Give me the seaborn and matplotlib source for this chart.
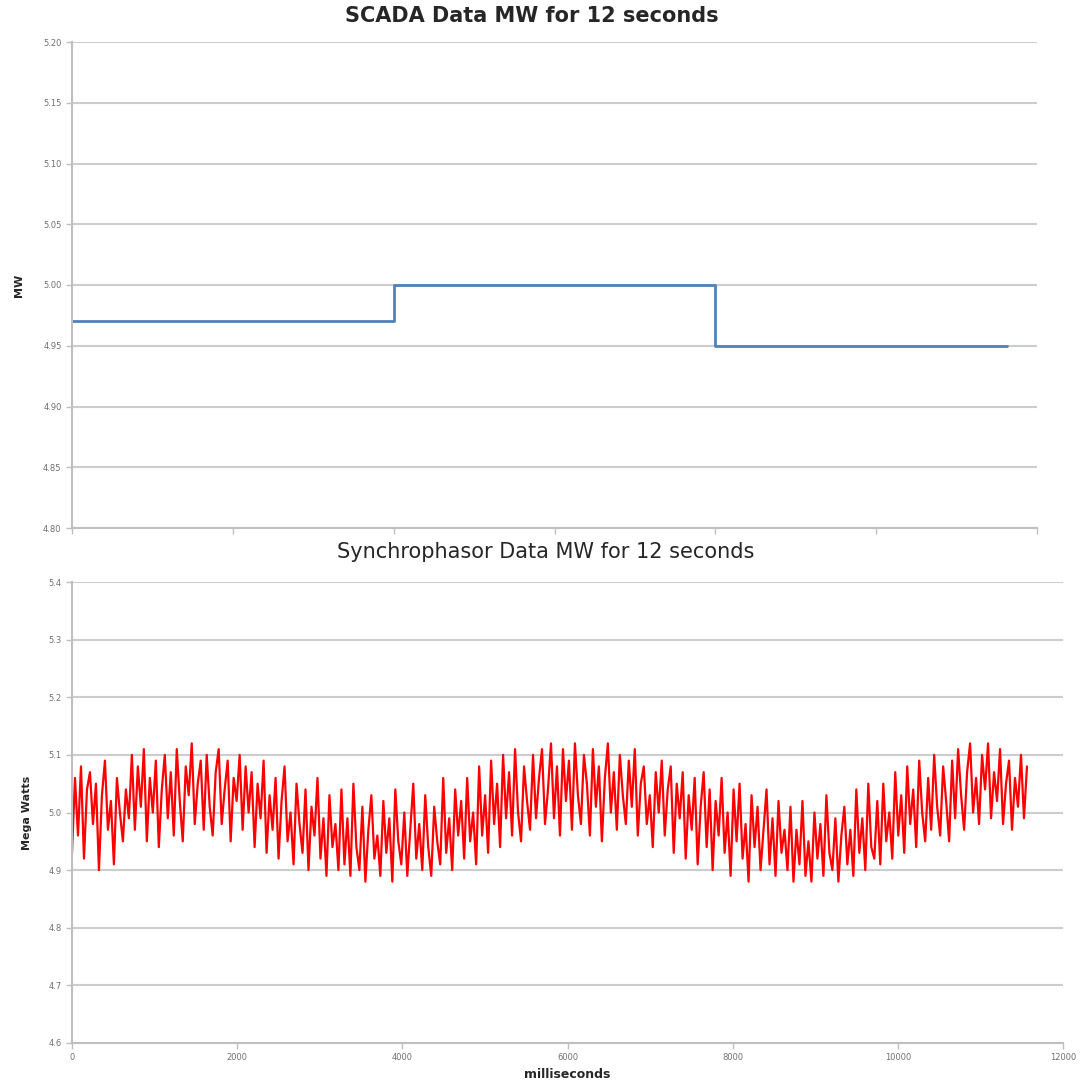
import numpy as np
import pandas as pd
import matplotlib
matplotlib.use("Agg")
import matplotlib.pyplot as plt
import seaborn as sns

# SCADA reporting: one value held between scans (seconds, MW)
scada_seconds = [0.0, 4.0, 8.0, 11.63]
scada_mw = [4.97, 5.00, 4.95, 4.95]

# Synchrophasor samples (MW), sampled every 36.25 ms
sample_ms = 36.25
pmu_mw = [
    4.93, 5.06, 4.96, 5.08, 4.92, 5.04, 5.07, 4.98, 5.05, 4.90, 5.03, 5.09, 4.97, 5.02, 4.91, 5.06, 5.00, 4.95, 5.04, 4.99,
    5.10, 4.97, 5.08, 5.01, 5.11, 4.95, 5.06, 5.00, 5.09, 4.94, 5.04, 5.10, 4.99, 5.07, 4.96, 5.11, 5.02, 4.95, 5.08, 5.03,
    5.12, 4.98, 5.05, 5.09, 4.97, 5.10, 5.01, 4.96, 5.07, 5.11, 4.98, 5.04, 5.09, 4.95, 5.06, 5.02, 5.10, 4.97, 5.08, 5.00,
    5.07, 4.94, 5.05, 4.99, 5.09, 4.93, 5.03, 4.97, 5.06, 4.92, 5.02, 5.08, 4.95, 5.00, 4.91, 5.05, 4.98, 4.93, 5.04, 4.90,
    5.01, 4.96, 5.06, 4.92, 4.99, 4.89, 5.03, 4.94, 4.98, 4.90,
    5.04, 4.91, 4.99, 4.89, 5.05, 4.94, 4.90, 5.01, 4.88, 4.97, 5.03, 4.92, 4.96, 4.89, 5.02, 4.93, 4.99, 4.88, 5.04, 4.95,
    4.91, 5.00, 4.89, 4.97, 5.05, 4.92, 4.98, 4.90, 5.03, 4.94, 4.89, 5.01, 4.95, 4.91, 5.06, 4.93, 4.99, 4.90, 5.04, 4.96,
    5.02, 4.92, 5.06, 4.95, 5.00, 4.91, 5.08, 4.96, 5.03, 4.93, 5.09, 4.98, 5.05, 4.94, 5.10, 4.99, 5.07, 4.96, 5.11, 5.00,
    4.95, 5.08, 5.02, 4.97, 5.10, 4.99, 5.06, 5.11, 4.98, 5.04,
    5.12, 4.99, 5.08, 4.96, 5.11, 5.02, 5.09, 4.97, 5.12, 5.03, 4.98, 5.10, 5.05, 4.96, 5.11, 5.01, 5.08, 4.95, 5.06, 5.12,
    5.00, 5.07, 4.97, 5.10, 5.03, 4.98, 5.09, 5.01, 5.11, 4.96, 5.05, 5.08, 4.98, 5.03, 4.94, 5.07, 5.00, 5.09, 4.96, 5.04,
    5.08, 4.93, 5.05, 4.99, 5.07, 4.92, 5.03, 4.97, 5.06, 4.91, 5.01, 5.07, 4.94, 5.04, 4.90, 5.02, 4.96, 5.06, 4.93, 5.00,
    4.89, 5.04, 4.95, 5.05, 4.92, 4.98, 4.88, 5.03, 4.94, 5.01, 4.90, 4.97, 5.04, 4.91, 4.99, 4.89, 5.02, 4.93, 4.97, 4.90,
    5.01, 4.88, 4.97, 4.91, 5.02, 4.89, 4.95, 4.88, 5.00, 4.92, 4.98, 4.89, 5.03, 4.93, 4.90, 4.99, 4.88, 4.96, 5.01, 4.91,
    4.97, 4.89, 5.04, 4.93, 4.99, 4.90, 5.05, 4.94, 4.92, 5.02,
    4.91, 5.05, 4.95, 5.00, 4.92, 5.07, 4.96, 5.03, 4.93, 5.08, 4.98, 5.04, 4.94, 5.09, 5.00, 4.95, 5.06, 4.97, 5.10, 5.01,
    4.96, 5.08, 5.02, 4.95, 5.09, 4.99, 5.11, 5.03, 4.97, 5.07, 5.12, 5.00, 5.06, 4.98, 5.10, 5.04, 5.12, 4.99, 5.07, 5.02,
    5.11, 4.98, 5.05, 5.09, 4.97, 5.06, 5.01, 5.10, 4.99, 5.08,
]

top_yticks = [4.80, 4.85, 4.90, 4.95, 5.00, 5.05, 5.10, 5.15, 5.20]
bottom_yticks = [4.6, 4.7, 4.8, 4.9, 5.0, 5.1, 5.2, 5.3, 5.4]
bottom_xticks = [0, 2000, 4000, 6000, 8000, 10000, 12000]

sns.set_theme(style="white")
plt.rcParams["font.family"] = ["DejaVu Sans"]

W, H = 1082, 1083
fig = plt.figure(figsize=(W / 100, H / 100), dpi=100)

grid_color = "#cdcdcd"

# ---- SCADA panel ----
ax1 = fig.add_axes([72 / W, 1 - 528 / H, 965 / W, 486 / H])
scada = pd.DataFrame({"t": scada_seconds, "mw": scada_mw})
sns.lineplot(data=scada, x="t", y="mw", ax=ax1, color="#4f81bd", lw=2,
             drawstyle="steps-post", estimator=None, sort=False)
ax1.set_xlim(0, 12)
ax1.set_ylim(4.80, 5.20)
ax1.set_yticks(top_yticks)
ax1.set_yticklabels([f"{v:.2f}" for v in top_yticks])
ax1.set_xticks([0, 2, 4, 6, 8, 10, 12])
ax1.set_xticklabels([])
ax1.yaxis.grid(True, color=grid_color, lw=1.5)
ax1.set_xlabel("")
ax1.set_ylabel("MW", fontsize=8, fontweight="bold", labelpad=14)
fig.text(532 / W, 1 - 16 / H, "SCADA Data MW for 12 seconds", fontsize=15,
         fontweight="bold", ha="center", va="center", color="#262626")

# ---- Synchrophasor panel ----
ax2 = fig.add_axes([72 / W, 1 - 1043 / H, 991 / W, 461 / H])
times = np.arange(len(pmu_mw)) * sample_ms
pmu = pd.DataFrame({"ms": times, "mw": pmu_mw})
sns.lineplot(data=pmu, x="ms", y="mw", ax=ax2, color="#ff0000", lw=1.6,
             estimator=None, sort=False)
ax2.set_xlim(0, 12000)
ax2.set_ylim(4.6, 5.4)
ax2.set_yticks(bottom_yticks)
ax2.set_yticklabels([f"{v:.1f}" for v in bottom_yticks])
ax2.set_xticks(bottom_xticks)
ax2.set_xticklabels([str(v) for v in bottom_xticks])
ax2.yaxis.grid(True, color=grid_color, lw=1.5)
ax2.set_xlabel("milliseconds", fontsize=9, fontweight="bold", labelpad=4)
ax2.set_ylabel("Mega Watts", fontsize=8, fontweight="bold", labelpad=12)
fig.text(546 / W, 1 - 552 / H, "Synchrophasor Data MW for 12 seconds", fontsize=15,
         ha="center", va="center", color="#262626")

for ax in (ax1, ax2):
    for side in ("top", "right"):
        ax.spines[side].set_visible(False)
    for side in ("left", "bottom"):
        ax.spines[side].set_color("#bfbfbf")
        ax.spines[side].set_linewidth(1.5)
    ax.tick_params(axis="both", labelsize=6, labelcolor="#707070",
                   length=4, width=1, color="#bfbfbf", direction="out")
    ax.tick_params(axis="y", left=True)
    ax.tick_params(axis="x", bottom=True)

fig.savefig("out.png", dpi=100, facecolor="white")
